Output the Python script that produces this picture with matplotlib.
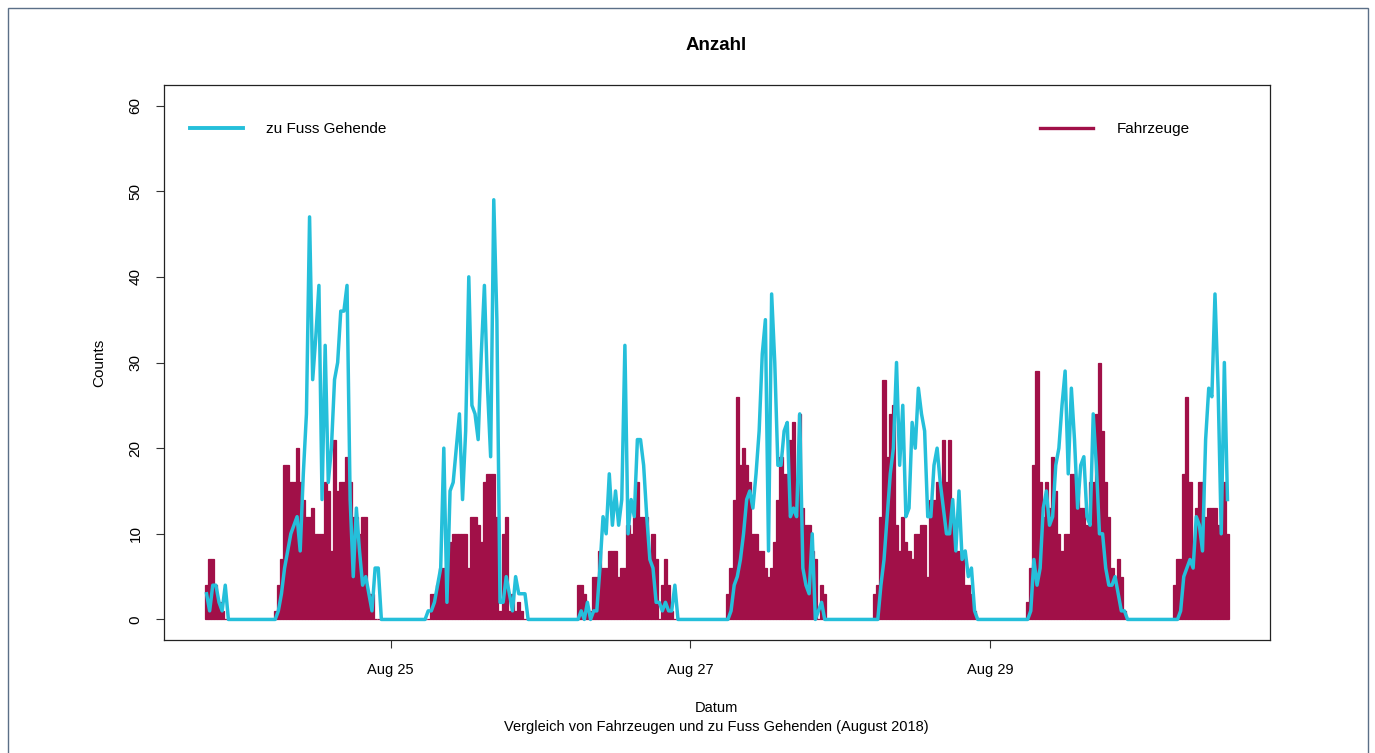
import matplotlib
matplotlib.use("Agg")
import matplotlib.pyplot as plt
import matplotlib.dates as mdates
from matplotlib.lines import Line2D
from matplotlib.patches import Rectangle
import pandas as pd

# Half-hour counts.
# Aug 23 starts at 18:30, Aug 24-29 lists start at 05:00, Aug 30 list starts at 05:00 and ends 14:00.
veh_aug23 = [4, 7, 7, 4, 2, 1, 0, 0, 0, 0, 0]
ped_aug23 = [3, 1, 4, 4, 2, 1, 4, 0, 0, 0, 0]

veh_aug24 = [0, 1, 4, 7, 18, 18, 16, 16, 20, 16, 14, 12, 12, 13, 10, 10, 10, 16,
             15, 8, 21, 15, 16, 16, 19, 16, 12, 12, 10, 12, 12, 3, 3, 0, 0, 0]
ped_aug24 = [0, 0, 1, 3, 6, 8, 10, 11, 12, 8, 17, 24, 47, 28, 33, 39, 14, 32,
             16, 20, 28, 30, 36, 36, 39, 14, 5, 13, 8, 4, 5, 3, 1, 6, 6, 0]

veh_aug25 = [0, 0, 0, 3, 3, 4, 6, 6, 6, 9, 10, 10, 10, 10, 10, 6, 12, 12,
             11, 9, 16, 17, 17, 17, 12, 1, 10, 12, 1, 3, 1, 2, 1, 0, 0, 0]
ped_aug25 = [0, 0, 1, 1, 2, 4, 6, 20, 2, 15, 16, 20, 24, 14, 22, 40, 25, 24,
             21, 31, 39, 27, 19, 49, 35, 2, 2, 5, 3, 1, 5, 3, 3, 3, 0, 0]

veh_aug26 = [0, 0, 4, 4, 3, 1, 1, 5, 5, 8, 6, 6, 8, 8, 8, 5, 6, 6,
             11, 10, 12, 16, 12, 12, 12, 8, 10, 7, 0, 4, 7, 4, 1, 0, 0, 0]
ped_aug26 = [0, 0, 0, 1, 0, 2, 0, 1, 1, 6, 12, 10, 17, 11, 15, 11, 14, 32,
             10, 14, 12, 21, 21, 18, 12, 7, 6, 2, 2, 1, 2, 1, 1, 4, 0, 0]

veh_aug27 = [0, 0, 3, 6, 14, 26, 18, 20, 18, 16, 10, 10, 8, 8, 6, 5, 6, 9,
             14, 19, 17, 17, 21, 23, 16, 24, 13, 11, 11, 8, 7, 0, 4, 3, 0, 0]
ped_aug27 = [0, 0, 0, 1, 4, 5, 7, 10, 14, 15, 13, 17, 22, 31, 35, 8, 38, 30,
             18, 18, 22, 23, 12, 13, 12, 24, 6, 4, 3, 10, 0, 1, 2, 0, 0, 0]

veh_aug28 = [0, 3, 4, 12, 28, 19, 24, 25, 11, 8, 12, 9, 8, 7, 10, 10, 11, 11,
             5, 14, 14, 16, 16, 21, 16, 21, 12, 8, 8, 8, 4, 4, 3, 1, 0, 0]
ped_aug28 = [0, 0, 0, 4, 7, 12, 17, 20, 30, 18, 25, 12, 13, 23, 20, 27, 24, 22,
             12, 12, 18, 20, 16, 13, 10, 10, 14, 8, 15, 7, 8, 5, 6, 1, 0, 0]

veh_aug29 = [0, 0, 2, 6, 18, 29, 16, 12, 16, 13, 19, 15, 10, 8, 10, 10, 17, 17,
             15, 13, 13, 11, 16, 16, 24, 30, 22, 16, 12, 6, 5, 7, 5, 1, 0, 0]
ped_aug29 = [0, 0, 0, 1, 7, 4, 6, 13, 15, 11, 12, 18, 20, 25, 29, 17, 27, 21,
             13, 18, 19, 12, 11, 24, 18, 10, 10, 6, 4, 4, 5, 3, 1, 1, 0, 0]

veh_aug30 = [0, 4, 7, 7, 17, 26, 16, 8, 13, 16, 16, 12, 13, 13, 13, 11, 13, 16, 10]
ped_aug30 = [0, 0, 0, 1, 5, 6, 7, 6, 12, 11, 8, 21, 27, 26, 38, 27, 10, 30, 14]

tick_days = [25, 27, 29]

CRIMSON = "#A11048"
CYAN = "#25BFDA"
BORDER = "#5B6F87"
NARROW = ["Liberation Sans Narrow", "Liberation Sans", "DejaVu Sans"]
REGULAR = ["Liberation Sans", "DejaVu Sans"]


def day(vals, first=10, n=48):
    out = [0] * n
    out[first:first + len(vals)] = vals
    return out


veh = day(veh_aug23, 37)[37:]
ped = day(ped_aug23, 37)[37:]
for v, p in [(veh_aug24, ped_aug24), (veh_aug25, ped_aug25), (veh_aug26, ped_aug26),
             (veh_aug27, ped_aug27), (veh_aug28, ped_aug28), (veh_aug29, ped_aug29)]:
    veh += day(v)
    ped += day(p)
veh += day(veh_aug30)[:29]
ped += day(ped_aug30)[:29]

times = pd.date_range("2018-08-23 18:30", periods=len(veh), freq="30min")

W, H = 1375, 753
fig = plt.figure(figsize=(W / 100, H / 100), dpi=100)
ax = fig.add_axes([164 / W, 1 - 640 / H, (1270 - 164) / W, (640 - 85) / H])

ax.bar(times, veh, width=1 / 48, color=CRIMSON, edgecolor=CRIMSON, linewidth=0.9, zorder=2)
ax.plot(times, ped, color=CYAN, lw=2.5, zorder=3)

ax.margins(x=0.04)
ax.set_ylim(-2.4, 62.4)
ax.set_yticks(range(0, 61, 10))
ax.xaxis.set_major_locator(mdates.DayLocator(bymonthday=tick_days))
ax.xaxis.set_major_formatter(mdates.DateFormatter("%b %d"))

for s in ax.spines.values():
    s.set_linewidth(0.9)
    s.set_color("#222222")
ax.tick_params(axis="both", direction="out", length=5.5, width=0.8, color="#333333")
ax.tick_params(axis="x", pad=11)
ax.tick_params(axis="y", pad=10)
for lab in ax.get_xticklabels():
    lab.set_family(NARROW)
    lab.set_fontsize(10.5)
for lab in ax.get_yticklabels():
    lab.set_family(REGULAR)
    lab.set_fontsize(11)
    lab.set_rotation(90)
    lab.set_va("center")

ax.set_ylabel("Counts", family=REGULAR, fontsize=11, labelpad=16)

fig.text(716 / W, 1 - 46 / H, "Anzahl", ha="center", va="center",
         family=NARROW, fontsize=13.5, fontweight="bold")
fig.text(716 / W, 1 - 708 / H, "Datum", ha="center", va="center",
         family=NARROW, fontsize=10.5)
fig.text(716 / W, 1 - 727 / H, "Vergleich von Fahrzeugen und zu Fuss Gehenden (August 2018)",
         ha="center", va="center", family=NARROW, fontsize=10.5)

leg_y = (640 - 129) / 555
leg1 = ax.legend([Line2D([], [], color=CYAN, lw=2.8)], ["zu Fuss Gehende"],
                 loc="center left", bbox_to_anchor=((190 - 164) / (1270 - 164), leg_y),
                 frameon=False, borderaxespad=0, borderpad=0, handlelength=3.5, handletextpad=1.5,
                 prop={"family": NARROW, "size": 11})
ax.add_artist(leg1)
ax.legend([Line2D([], [], color=CRIMSON, lw=2.4)], ["Fahrzeuge"],
          loc="center left", bbox_to_anchor=((1040 - 164) / (1270 - 164), leg_y),
          frameon=False, borderaxespad=0, borderpad=0, handlelength=3.5, handletextpad=1.5,
          prop={"family": NARROW, "size": 11})

fig.patches.append(Rectangle((8 / W, -0.05), (1368 - 8) / W, 1.05 - 8 / H,
                             transform=fig.transFigure, fill=False, edgecolor=BORDER, lw=1.0))

fig.savefig("out.png", dpi=100)
